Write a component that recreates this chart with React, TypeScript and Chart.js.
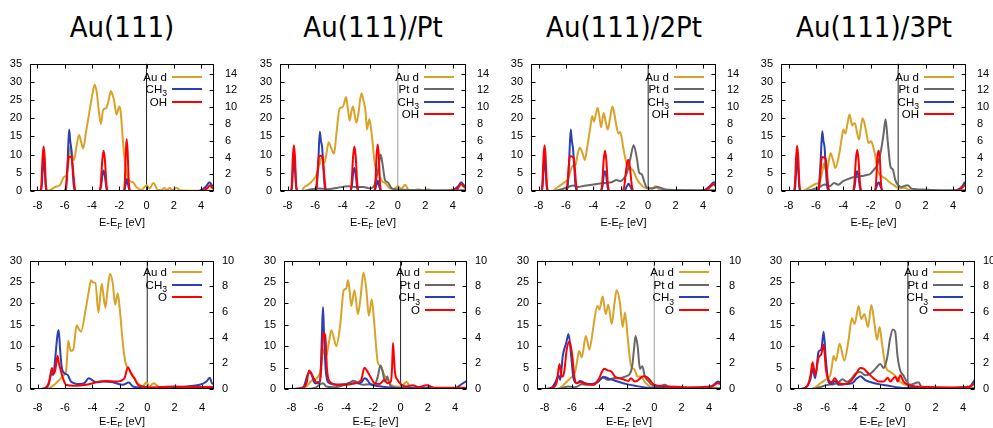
import React, { useEffect, useRef } from "react";
import { Chart, registerables } from "chart.js";

Chart.register(...registerables);

type Pt = [number, number];

// ---------- text / ticks ----------
const PANEL_TITLES = ["Au(111)", "Au(111)/Pt", "Au(111)/2Pt", "Au(111)/3Pt"];
const X_LABEL = "E-E_F [eV]";
const X_TICKS = [-8, -6, -4, -2, 0, 2, 4];
const TOP_Y_TICKS = [0, 5, 10, 15, 20, 25, 30, 35];
const TOP_Y2_TICKS = [0, 2, 4, 6, 8, 10, 12, 14];
const BOT_Y_TICKS = [0, 5, 10, 15, 20, 25, 30];
const BOT_Y2_TICKS = [0, 2, 4, 6, 8, 10];
const LABEL_AU = "Au d";
const LABEL_PT = "Pt d";
const LABEL_CH3 = "CH_3";
const LABEL_OH = "OH";
const LABEL_O = "O";

// ---------- top row (OH adsorbed) : Au d / Pt d on left axis, CH3 / OH on right axis ----------
const T1_AU: Pt[] = [[-8.6,0],[-7.3,0],[-7.1,0.2],[-6.7,1.1],[-6.35,1.6],[-6.1,3.7],[-5.86,4.6],[-5.72,8],[-5.6,12.4],[-5.45,10],[-5.32,8.5],[-5.15,12],[-4.95,15.4],[-4.8,13.5],[-4.65,11.7],[-4.45,16],[-4.15,22.7],[-3.95,27],[-3.8,29.2],[-3.65,27],[-3.5,22],[-3.35,18.4],[-3.18,22.3],[-2.99,22.7],[-2.87,23.6],[-2.75,25.5],[-2.62,27.5],[-2.5,26.5],[-2.38,24.9],[-2.2,21],[-2.0,23.2],[-1.9,21.9],[-1.72,13.2],[-1.53,6.3],[-1.28,2.9],[-1.0,2.4],[-0.75,1.1],[-0.37,0.3],[0,1.6],[0.22,0.7],[0.5,2.2],[0.83,0.3],[1.1,0.3],[1.3,0.8],[1.5,0.3],[1.7,0.8],[1.9,0.3],[2.2,0.8],[2.5,0.2],[3.0,0.1],[4.0,0.1],[4.95,0.1]];
const T1_CH3: Pt[] = [[-8.6,0],[-7.82,0],[-7.71,0.3],[-7.62,2.5],[-7.55,4.06],[-7.47,2.5],[-7.38,0.3],[-7.27,0],[-6.02,0],[-5.9,0.3],[-5.79,3.5],[-5.68,7.33],[-5.6,6],[-5.52,5.0],[-5.44,3.0],[-5.33,0.5],[-5.2,0],[-3.48,0],[-3.34,0.5],[-3.23,2.0],[-3.15,2.44],[-3.06,1.8],[-2.94,0.3],[-2.82,0],[-1.65,0],[-1.54,0.7],[-1.45,1.43],[-1.36,0.8],[-1.24,0.1],[-1.1,0],[3.8,0],[4.1,0.2],[4.4,0.6],[4.6,1.05],[4.75,0.8],[4.95,0.3]];
const T1_OH: Pt[] = [[-8.6,0],[-7.82,0],[-7.72,0.6],[-7.63,4.0],[-7.55,5.3],[-7.47,4.0],[-7.38,0.6],[-7.27,0],[-6.02,0],[-5.92,0.4],[-5.81,2.5],[-5.72,4.06],[-5.6,4.1],[-5.48,3.9],[-5.39,2.5],[-5.28,0.5],[-5.17,0],[-3.48,0],[-3.37,0.6],[-3.24,3.8],[-3.15,4.8],[-3.06,3.8],[-2.93,0.6],[-2.82,0],[-1.7,0],[-1.6,0.8],[-1.52,4.5],[-1.46,6.2],[-1.39,4.8],[-1.3,1.0],[-1.18,0],[3.8,0],[4.2,0.1],[4.5,0.4],[4.65,0.68],[4.8,0.4],[4.95,0.2]];

const T2_AU: Pt[] = [[-8.6,0],[-7.0,0],[-6.78,1.1],[-6.54,1.6],[-6.17,2.9],[-5.93,4.2],[-5.7,7],[-5.5,9.3],[-5.32,7.8],[-5.15,11],[-5.02,13.4],[-4.85,12],[-4.63,10.2],[-4.45,16],[-4.22,22.7],[-4.02,23],[-3.9,24],[-3.76,25.8],[-3.62,22.5],[-3.49,19.3],[-3.36,22],[-3.24,23.2],[-3.12,20.5],[-3.0,18.8],[-2.85,21.5],[-2.72,25.5],[-2.63,26.8],[-2.5,25],[-2.34,21.9],[-2.24,16.9],[-2.07,19.7],[-1.95,17.5],[-1.85,14.1],[-1.66,7.2],[-1.41,5],[-1.17,2.9],[-0.88,2.0],[-0.56,0.7],[-0.3,0.5],[0,1.3],[0.25,0.6],[0.54,1.7],[0.78,0.3],[1.2,0.2],[1.5,0.5],[1.8,0.2],[2.2,0.5],[2.5,0.1],[3.5,0.1],[3.9,0.4],[4.2,0.1],[4.95,0.1]];
const T2_PT: Pt[] = [[-8.6,0],[-7.0,0],[-6.5,0.3],[-5.8,0.7],[-5.1,0.5],[-4.35,0.9],[-3.6,1.3],[-3.1,1.1],[-2.5,1.1],[-2.0,0.7],[-1.66,2.0],[-1.41,6.3],[-1.24,10.0],[-1.1,7.2],[-0.93,3.0],[-0.73,2.4],[-0.44,0.7],[0.05,0.4],[1.0,0.3],[4.95,0.2]];
const T2_CH3: Pt[] = [[-8.6,0],[-7.8,0],[-7.69,0.3],[-7.61,2.5],[-7.54,4.06],[-7.46,2.5],[-7.37,0.3],[-7.26,0],[-6.02,0],[-5.9,0.3],[-5.77,3.5],[-5.66,7.07],[-5.58,6],[-5.49,5.2],[-5.41,3.0],[-5.3,0.5],[-5.18,0],[-3.48,0],[-3.34,0.5],[-3.23,2.3],[-3.15,2.74],[-3.06,2.0],[-2.94,0.3],[-2.82,0],[-1.7,0],[-1.56,0.7],[-1.46,1.24],[-1.37,0.7],[-1.25,0.1],[-1.12,0],[3.8,0],[4.1,0.2],[4.4,0.6],[4.6,1.05],[4.75,0.8],[4.95,0.4]];
const T2_OH: Pt[] = [[-8.6,0],[-7.8,0],[-7.7,0.6],[-7.62,4.0],[-7.54,5.45],[-7.46,4.0],[-7.37,0.6],[-7.26,0],[-6.02,0],[-5.92,0.4],[-5.81,2.5],[-5.72,4.14],[-5.58,4.2],[-5.45,3.9],[-5.37,2.5],[-5.26,0.5],[-5.15,0],[-3.48,0],[-3.37,0.6],[-3.24,4.2],[-3.15,5.3],[-3.06,4.2],[-2.93,0.6],[-2.82,0],[-1.74,0],[-1.63,0.8],[-1.54,4.3],[-1.46,5.56],[-1.38,4.3],[-1.29,0.8],[-1.17,0],[3.8,0],[4.3,0.2],[4.6,0.8],[4.8,0.5],[4.95,0.3]];

const T3_AU: Pt[] = [[-8.6,0],[-7.0,0],[-6.58,1.1],[-6.1,2.4],[-5.84,3.3],[-5.6,6.3],[-5.45,7],[-5.3,7.2],[-5.15,10],[-4.99,11.9],[-4.8,10.5],[-4.62,8.5],[-4.45,12],[-4.25,16.7],[-4.08,20.6],[-3.96,19.1],[-3.82,21],[-3.69,22.9],[-3.56,20.5],[-3.44,17.5],[-3.25,21.4],[-3.1,19],[-2.95,16.9],[-2.78,20],[-2.61,23.2],[-2.48,21.5],[-2.36,18.8],[-2.17,15.8],[-2.04,16.2],[-1.8,11.5],[-1.55,7.2],[-1.3,6.3],[-1.06,5.4],[-0.83,3.3],[-0.59,2.0],[-0.34,1.1],[0,0.7],[0.3,0.7],[0.56,1.3],[0.8,0.4],[1.2,0.2],[2.2,0.3],[3,0.1],[4.95,0.1]];
const T3_PT: Pt[] = [[-8.6,0],[-6.8,0],[-6.3,0.5],[-5.84,1.1],[-5.48,1.5],[-5.1,1.1],[-4.75,1.4],[-4.37,1.6],[-4.0,1.8],[-3.64,2.0],[-3.15,2.2],[-2.66,2.4],[-2.3,3.0],[-2.05,2.7],[-1.8,3.3],[-1.55,5.0],[-1.3,8.9],[-1.06,12.6],[-0.84,9.3],[-0.65,5.0],[-0.47,4.6],[-0.27,2.4],[-0.1,0.9],[0.3,0.7],[0.65,1.1],[1.26,0.4],[2,0.3],[4.95,0.2]];
const T3_CH3: Pt[] = [[-8.6,0],[-7.83,0],[-7.72,0.3],[-7.63,2.5],[-7.56,4.06],[-7.48,2.5],[-7.39,0.3],[-7.28,0],[-6.02,0],[-5.9,0.3],[-5.77,3.5],[-5.65,7.33],[-5.57,6],[-5.48,5.0],[-5.4,3.0],[-5.29,0.5],[-5.17,0],[-3.48,0],[-3.35,0.4],[-3.23,2.0],[-3.15,2.37],[-3.06,1.8],[-2.94,0.3],[-2.82,0],[-1.75,0],[-1.57,0.5],[-1.43,0.86],[-1.29,0.5],[-1.14,0.05],[-1.0,0],[3.8,0],[4.2,0.2],[4.5,0.6],[4.8,1.05],[4.95,0.8]];
const T3_OH: Pt[] = [[-8.6,0],[-7.83,0],[-7.73,0.6],[-7.64,4.0],[-7.56,5.45],[-7.48,4.0],[-7.39,0.6],[-7.28,0],[-6.02,0],[-5.92,0.4],[-5.81,2.5],[-5.72,4.17],[-5.55,4.1],[-5.42,3.9],[-5.34,2.5],[-5.24,0.5],[-5.13,0],[-3.48,0],[-3.37,0.6],[-3.24,3.8],[-3.15,4.8],[-3.06,3.8],[-2.93,0.6],[-2.82,0],[-1.88,0],[-1.74,0.6],[-1.61,2.5],[-1.5,3.6],[-1.42,3.7],[-1.31,2.5],[-1.19,0.6],[-1.04,0],[3.8,0],[4.3,0.2],[4.6,0.6],[4.8,0.8],[4.95,0.5]];

const T4_AU: Pt[] = [[-8.6,0],[-7.0,0],[-6.47,1.0],[-5.98,2.0],[-5.74,2.4],[-5.55,5],[-5.42,7.6],[-5.3,6],[-5.2,5.4],[-5.05,8.5],[-4.93,10.4],[-4.75,8.5],[-4.59,6.3],[-4.28,10.6],[-4.1,15],[-4.0,16.9],[-3.85,15.8],[-3.7,18.5],[-3.55,21],[-3.45,19.5],[-3.36,18.0],[-3.22,18.6],[-3.13,18.4],[-3.0,16],[-2.86,14.1],[-2.72,17.5],[-2.6,20.0],[-2.45,18.5],[-2.33,16.2],[-2.16,13.2],[-1.97,13.7],[-1.85,12.5],[-1.72,10.6],[-1.48,5.4],[-1.24,4.1],[-0.95,3.5],[-0.63,2.4],[-0.27,1.5],[0.1,0.7],[0.46,0.9],[0.8,0.3],[1.5,0.1],[4.95,0.1]];
const T4_PT: Pt[] = [[-8.6,0],[-6.8,0],[-6.23,0.4],[-5.74,1.1],[-5.37,1.8],[-5.0,1.3],[-4.67,2.2],[-4.38,1.7],[-4.02,2.7],[-3.65,3.3],[-3.35,3.7],[-3.04,3.9],[-2.68,4.1],[-2.31,4.4],[-2.07,4.6],[-1.76,5.9],[-1.52,7.2],[-1.28,10.6],[-1.06,15.8],[-0.92,19.7],[-0.75,13.2],[-0.56,6.7],[-0.39,5.9],[-0.2,2.9],[0.02,1.5],[0.22,1.1],[0.46,1.4],[0.7,1.6],[0.95,0.7],[1.3,0.5],[2.0,0.4],[2.5,0.3],[4.95,0.2]];
const T4_CH3: Pt[] = [[-8.6,0],[-7.64,0],[-7.53,0.3],[-7.44,2.5],[-7.37,4.06],[-7.29,2.5],[-7.2,0.3],[-7.09,0],[-5.92,0],[-5.8,0.3],[-5.66,3.5],[-5.54,7.14],[-5.46,6],[-5.37,5.2],[-5.29,3.0],[-5.18,0.5],[-5.06,0],[-3.32,0],[-3.19,0.4],[-3.07,2.0],[-2.99,2.37],[-2.9,1.8],[-2.78,0.3],[-2.66,0],[-1.72,0],[-1.56,0.6],[-1.43,1.05],[-1.3,0.6],[-1.14,0.05],[-1.0,0],[4.0,0],[4.4,0.2],[4.7,0.6],[4.85,1.0],[4.95,0.9]];
const T4_OH: Pt[] = [[-8.6,0],[-7.64,0],[-7.54,0.6],[-7.45,4.0],[-7.37,5.4],[-7.29,4.0],[-7.2,0.6],[-7.09,0],[-5.88,0],[-5.77,0.4],[-5.66,2.5],[-5.56,4.06],[-5.42,4.0],[-5.3,3.9],[-5.21,2.5],[-5.1,0.5],[-4.98,0],[-3.32,0],[-3.21,0.6],[-3.08,3.9],[-2.99,4.9],[-2.9,3.9],[-2.77,0.6],[-2.66,0],[-1.72,0],[-1.62,0.8],[-1.52,4.0],[-1.43,4.8],[-1.34,4.0],[-1.25,0.8],[-1.13,0],[4.0,0],[4.5,0.2],[4.8,0.6],[4.95,0.8]];

// ---------- bottom row (O adsorbed) ----------
const B1_AU: Pt[] = [[-8.6,0],[-7.6,0],[-7.15,0.2],[-6.78,1.0],[-6.41,2.1],[-6.12,3.2],[-5.93,4.0],[-5.85,7],[-5.76,11.3],[-5.65,9.5],[-5.56,8.9],[-5.39,9.2],[-5.15,14.9],[-4.99,14],[-4.83,13.4],[-4.51,18.2],[-4.27,22.7],[-4.1,25.4],[-3.95,24.9],[-3.78,24.8],[-3.56,17.9],[-3.32,24.6],[-3.2,22],[-3.05,19],[-2.9,23],[-2.71,26.9],[-2.51,24.6],[-2.34,19.7],[-2.15,22.4],[-1.98,17.9],[-1.78,10.7],[-1.59,6.2],[-1.29,4.4],[-1.05,2.9],[-0.68,1.35],[-0.32,0.6],[-0.07,1.6],[0.17,0.6],[0.46,1.35],[0.9,0.4],[1.5,0.3],[2.3,0.4],[3,0.2],[4.87,0.2]];
const B1_CH3: Pt[] = [[-8.6,0],[-7.63,0],[-7.2,0.33],[-6.98,1.2],[-6.85,1.1],[-6.7,2.5],[-6.55,4.2],[-6.46,4.6],[-6.35,3],[-6.22,1.6],[-6.0,1.2],[-5.8,1.1],[-5.56,0.58],[-4.95,0.38],[-4.59,0.45],[-4.27,0.83],[-3.73,0.52],[-3.24,0.58],[-2.51,0.52],[-1.78,0.33],[-1.34,0.5],[-1.05,0.2],[-0.32,0.12],[0.5,0.1],[3.83,0.33],[4.32,0.58],[4.56,0.88],[4.75,0.4],[4.87,0.4]];
const B1_O: Pt[] = [[-8.6,0],[-7.88,0],[-7.39,0.12],[-7.15,0.58],[-6.95,1.63],[-6.83,1.2],[-6.71,1.45],[-6.54,2.58],[-6.44,2.0],[-6.34,1.58],[-6.1,0.7],[-5.93,0.33],[-5.2,0.25],[-4.46,0.33],[-3.98,0.45],[-3.49,0.58],[-3.0,0.63],[-2.27,0.58],[-1.66,0.83],[-1.41,1.7],[-1.17,1.2],[-0.93,0.83],[-0.68,0.33],[-0.32,0.2],[0.17,0.12],[1,0.15],[2,0.2],[3,0.15],[4.56,0.15],[4.87,0.15]];

const B2_AU: Pt[] = [[-8.6,0],[-7.27,0],[-6.9,0.6],[-6.54,1.9],[-6.17,2.5],[-5.93,3.6],[-5.8,6],[-5.69,9.2],[-5.58,8.2],[-5.45,7.7],[-5.25,11],[-5.08,13.7],[-4.9,12],[-4.71,10],[-4.42,15.2],[-4.17,23.1],[-3.98,23.5],[-3.86,25.4],[-3.74,23],[-3.62,19.4],[-3.38,23.1],[-3.13,17.5],[-2.95,21],[-2.72,27.2],[-2.52,23.5],[-2.33,17.1],[-2.11,20.9],[-1.92,14.9],[-1.67,6.2],[-1.44,5.3],[-1.19,3.2],[-0.95,2.5],[-0.71,1.1],[-0.34,0.6],[0.02,0.6],[0.46,1.7],[0.7,0.4],[1.2,0.3],[2,0.3],[3,0.2],[4.87,0.2]];
const B2_PT: Pt[] = [[-8.6,0],[-6.9,0],[-6.3,0.25],[-5.69,1.35],[-5.45,0.6],[-4.84,0.4],[-4.1,1.0],[-3.74,1.5],[-3.43,1.9],[-3.13,1.35],[-2.77,1.0],[-2.28,1.1],[-1.92,1.0],[-1.67,2.9],[-1.48,5.5],[-1.31,4.0],[-1.14,1.7],[-0.98,2.9],[-0.85,1.5],[-0.71,0.6],[0.02,0.2],[4.87,0.1]];
const B2_CH3: Pt[] = [[-8.6,0],[-7.88,0],[-7.15,0.12],[-6.78,1.2],[-6.61,1.3],[-6.47,0.95],[-6.29,0.45],[-5.93,0.45],[-5.85,1.5],[-5.77,4.3],[-5.69,6.38],[-5.62,4.5],[-5.5,1.6],[-5.35,0.6],[-5.2,0.45],[-4.59,0.33],[-3.98,0.38],[-3.38,0.45],[-2.89,0.5],[-2.65,0.83],[-2.48,0.75],[-2.21,0.38],[-1.8,0.25],[-1.44,0.2],[-0.71,0.12],[0.02,0.08],[4.0,0.08],[4.41,0.33],[4.77,0.58],[4.87,0.6]];
const B2_O: Pt[] = [[-8.6,0],[-7.8,0],[-7.27,0.08],[-6.9,0.45],[-6.71,1.45],[-6.54,1.2],[-6.37,0.83],[-6.17,0.53],[-5.93,0.58],[-5.8,2.0],[-5.76,3.2],[-5.66,4.38],[-5.52,4.1],[-5.4,1.58],[-5.2,0.58],[-4.59,0.33],[-3.98,0.33],[-3.38,0.45],[-2.89,0.7],[-2.65,1.65],[-2.48,1.45],[-2.21,0.95],[-1.92,0.45],[-1.56,0.38],[-1.19,0.7],[-0.95,0.45],[-0.71,0.58],[-0.62,1.8],[-0.56,3.58],[-0.48,2.4],[-0.41,1.3],[-0.22,0.7],[0.07,0.33],[0.39,0.2],[0.9,0.3],[1.3,0.15],[1.9,0.3],[2.5,0.1],[3.5,0.1],[4.87,0.1]];

const B3_AU: Pt[] = [[-8.6,0],[-7.1,0],[-6.74,0.6],[-6.38,1.7],[-6.13,2.5],[-5.77,4.0],[-5.6,7],[-5.48,8.9],[-5.28,7.4],[-4.99,12.4],[-4.73,9.2],[-4.44,14.5],[-4.15,19.4],[-4.0,18.6],[-3.76,21.6],[-3.54,17.5],[-3.35,19.7],[-3.1,15.2],[-2.9,20],[-2.74,23.1],[-2.5,20.1],[-2.3,14.5],[-2.13,17.9],[-1.94,12.2],[-1.7,5.5],[-1.45,4.6],[-1.21,2.9],[-0.97,2.9],[-0.68,1.6],[-0.32,0.6],[0.05,0.4],[0.6,0.3],[2,0.2],[4.87,0.2]];
const B3_PT: Pt[] = [[-8.6,0],[-7.0,0],[-6.25,0.6],[-5.77,0.4],[-5.28,1.1],[-4.92,1.0],[-4.44,1.0],[-4.07,2.1],[-3.71,2.6],[-3.35,2.1],[-2.98,2.5],[-2.5,2.5],[-2.13,2.9],[-1.76,3.6],[-1.6,5.5],[-1.48,9.2],[-1.36,12.4],[-1.21,10],[-1.04,4.7],[-0.87,5.3],[-0.68,2.9],[-0.44,1.9],[-0.19,1.0],[0.29,0.6],[0.78,1.0],[1.1,0.4],[2,0.2],[4.87,0.2]];
const B3_CH3: Pt[] = [[-8.6,0],[-7.95,0],[-7.47,0.12],[-7.18,0.58],[-6.98,1.08],[-6.86,0.7],[-6.67,2.58],[-6.42,3.58],[-6.25,4.28],[-6.06,2.6],[-5.89,0.83],[-5.65,0.45],[-5.41,0.63],[-5.04,0.45],[-4.56,0.38],[-4.07,0.58],[-3.71,0.95],[-3.35,0.83],[-2.98,0.7],[-2.5,0.52],[-2.01,0.38],[-1.41,0.25],[-0.68,0.12],[0.05,0.08],[4.17,0.2],[4.65,0.58],[4.87,0.45]];
const B3_O: Pt[] = [[-8.6,0],[-7.95,0],[-7.35,0.12],[-7.1,0.58],[-6.91,1.95],[-6.74,0.95],[-6.57,1.3],[-6.38,3.08],[-6.18,3.7],[-6.0,2.8],[-5.82,0.95],[-5.65,0.45],[-5.41,0.53],[-4.92,0.38],[-4.44,0.33],[-4.07,0.7],[-3.83,1.3],[-3.64,1.58],[-3.4,1.45],[-3.15,1.38],[-2.86,0.95],[-2.5,0.83],[-2.13,0.7],[-1.89,0.63],[-1.7,0.83],[-1.41,0.58],[-1.16,0.7],[-0.8,1.0],[-0.56,0.95],[-0.32,0.7],[-0.07,0.38],[0.29,0.25],[1,0.2],[2,0.15],[3,0.12],[4.17,0.2],[4.65,0.45],[4.87,0.35]];

const B4_AU: Pt[] = [[-8.6,0],[-7.08,0],[-6.72,0.4],[-6.35,1.35],[-6.0,2.1],[-5.63,3.2],[-5.5,5.5],[-5.39,7.7],[-5.22,6.6],[-4.95,10.6],[-4.61,6.6],[-4.3,11.5],[-4.06,16.6],[-3.86,15.2],[-3.57,19.4],[-3.38,16.3],[-3.16,17.5],[-2.89,14.5],[-2.65,19.6],[-2.42,15.2],[-2.24,11.5],[-2.05,14.5],[-1.88,10.7],[-1.6,5.1],[-1.28,4.0],[-0.92,3.1],[-0.56,1.7],[-0.19,1.0],[0.29,0.6],[1,0.3],[2,0.2],[4.87,0.2]];
const B4_PT: Pt[] = [[-8.6,0],[-7.0,0],[-6.23,0.6],[-5.75,1.0],[-5.39,1.1],[-5.02,1.6],[-4.73,2.3],[-4.42,1.7],[-4.06,2.5],[-3.81,3.6],[-3.45,4.0],[-3.09,3.2],[-2.72,3.6],[-2.36,4.7],[-2.0,5.85],[-1.76,4.9],[-1.52,7.0],[-1.28,11.9],[-1.09,13.9],[-0.92,13.4],[-0.75,7.7],[-0.56,4.4],[-0.31,3.1],[-0.07,1.7],[0.17,1.0],[0.53,1.35],[0.78,1.6],[1.0,0.4],[2,0.2],[4.87,0.2]];
const B4_CH3: Pt[] = [[-8.6,0],[-7.8,0],[-7.32,0.2],[-7.08,0.7],[-6.91,1.58],[-6.72,0.83],[-6.48,2.9],[-6.28,3.1],[-6.11,4.45],[-5.95,2.3],[-5.75,0.53],[-5.51,0.38],[-5.31,0.63],[-5.02,0.33],[-4.54,0.38],[-4.06,0.45],[-3.69,0.83],[-3.45,1.0],[-3.09,0.7],[-2.6,0.5],[-2.12,0.38],[-1.4,0.25],[-0.68,0.12],[0.05,0.08],[4.41,0.12],[4.65,0.38],[4.87,0.75]];
const B4_O: Pt[] = [[-8.6,0],[-7.8,0],[-7.32,0.2],[-7.08,0.95],[-6.91,2.08],[-6.72,1.08],[-6.48,2.45],[-6.28,2.7],[-6.11,3.45],[-5.95,1.58],[-5.75,0.7],[-5.51,0.53],[-5.31,0.83],[-5.02,0.45],[-4.54,0.38],[-4.18,0.58],[-3.81,1.08],[-3.45,1.63],[-3.21,1.58],[-2.85,1.2],[-2.48,0.83],[-2.12,0.58],[-1.76,0.58],[-1.45,0.88],[-1.28,0.58],[-0.92,0.95],[-0.73,0.58],[-0.56,1.08],[-0.31,0.58],[0,0.33],[0.53,0.2],[1.5,0.15],[3,0.12],[4.5,0.2],[4.87,0.45]];

// ---------- styling ----------
const C_AU = "#d9a32a";
const C_PT = "#686868";
const C_CH3 = "#2c3fb3";
const C_O = "#ff0000";
const FONT = '"Liberation Sans", Arial, Helvetica, sans-serif';
const SIDE = 32;
const PAD_TOP = 10;
const TICK_LEN = 4;

type Series = { label: string; color: string; axis: "y" | "y2"; data: Pt[] };
type Row = {
  top: number; height: number; xMin: number; xMax: number; yMax: number; y2Max: number;
  yTicks: number[]; y2Ticks: number[]; xPad: number; yPad: number; y2Pad: number;
  legendY0: number; legendDy: number; xTitleBase: number; bottomSpace: number;
};
type PanelDef = { row: Row; left: number; width: number; series: Series[]; fermi: string };

const ROW_TOP: Row = {
  top: 56, height: 135, xMin: -8.55, xMax: 4.95, yMax: 35, y2Max: 15.2,
  yTicks: TOP_Y_TICKS, y2Ticks: TOP_Y2_TICKS, xPad: 8, yPad: 8, y2Pad: 11,
  legendY0: 13.3, legendDy: 12.3, xTitleBase: 35, bottomSpace: 45,
};
const ROW_BOT: Row = {
  top: 256, height: 133, xMin: -8.55, xMax: 4.87, yMax: 30, y2Max: 10,
  yTicks: BOT_Y_TICKS, y2Ticks: BOT_Y2_TICKS, xPad: 12.5, yPad: 8, y2Pad: 8,
  legendY0: 11.4, legendDy: 12.7, xTitleBase: 36, bottomSpace: 38,
};

const au = (d: Pt[]): Series => ({ label: LABEL_AU, color: C_AU, axis: "y", data: d });
const pt = (d: Pt[]): Series => ({ label: LABEL_PT, color: C_PT, axis: "y", data: d });
const ch3 = (d: Pt[]): Series => ({ label: LABEL_CH3, color: C_CH3, axis: "y2", data: d });
const oh = (d: Pt[]): Series => ({ label: LABEL_OH, color: C_O, axis: "y2", data: d });
const o = (d: Pt[]): Series => ({ label: LABEL_O, color: C_O, axis: "y2", data: d });

const PANELS: PanelDef[] = [
  { row: ROW_TOP, left: 30, width: 184, series: [au(T1_AU), ch3(T1_CH3), oh(T1_OH)], fermi: "#222" },
  { row: ROW_TOP, left: 280, width: 186, series: [au(T2_AU), pt(T2_PT), ch3(T2_CH3), oh(T2_OH)], fermi: "#999" },
  { row: ROW_TOP, left: 531, width: 185, series: [au(T3_AU), pt(T3_PT), ch3(T3_CH3), oh(T3_OH)], fermi: "#222" },
  { row: ROW_TOP, left: 781, width: 185, series: [au(T4_AU), pt(T4_PT), ch3(T4_CH3), oh(T4_OH)], fermi: "#222" },
  { row: ROW_BOT, left: 30, width: 184, series: [au(B1_AU), ch3(B1_CH3), o(B1_O)], fermi: "#222" },
  { row: ROW_BOT, left: 284, width: 183, series: [au(B2_AU), pt(B2_PT), ch3(B2_CH3), o(B2_O)], fermi: "#222" },
  { row: ROW_BOT, left: 537, width: 184, series: [au(B3_AU), pt(B3_PT), ch3(B3_CH3), o(B3_O)], fermi: "#999" },
  { row: ROW_BOT, left: 790, width: 185, series: [au(B4_AU), pt(B4_PT), ch3(B4_CH3), o(B4_O)], fermi: "#222" },
];

// ---------- rich text (subscripts written as _x) ----------
function parseRich(s: string) {
  const parts: { t: string; sub: boolean }[] = [];
  let buf = "";
  for (let i = 0; i < s.length; i++) {
    if (s[i] === "_" && i + 1 < s.length) {
      if (buf) parts.push({ t: buf, sub: false });
      buf = "";
      parts.push({ t: s[i + 1], sub: true });
      i++;
    } else buf += s[i];
  }
  if (buf) parts.push({ t: buf, sub: false });
  return parts;
}
function drawRich(ctx: CanvasRenderingContext2D, s: string, x: number, y: number, size: number, align: "right" | "center") {
  const parts = parseRich(s);
  const fontFor = (sub: boolean) => `${sub ? size * 0.75 : size}px ${FONT}`;
  let w = 0;
  for (const p of parts) { ctx.font = fontFor(p.sub); w += ctx.measureText(p.t).width; }
  let cx = align === "right" ? x - w : x - w / 2;
  ctx.textAlign = "left";
  ctx.textBaseline = "alphabetic";
  for (const p of parts) {
    ctx.font = fontFor(p.sub);
    ctx.fillText(p.t, cx, p.sub ? y + size * 0.28 : y);
    cx += ctx.measureText(p.t).width;
  }
}

function makeOverlay(p: PanelDef) {
  return {
    id: "gnuFrame",
    afterDraw(chart: any) {
      const { ctx, chartArea: a, scales } = chart;
      ctx.save();
      const L = Math.round(a.left) + 0.5;
      const R = Math.round(a.right) - 0.5;
      const T = Math.round(a.top) + 0.5;
      const B = Math.round(a.bottom) - 0.5;
      ctx.strokeStyle = "#000";
      ctx.lineWidth = 1;
      ctx.strokeRect(L, T, R - L, B - T);
      ctx.beginPath();
      for (const t of scales.x.ticks) {
        const px = Math.round(scales.x.getPixelForValue(t.value)) + 0.5;
        ctx.moveTo(px, B); ctx.lineTo(px, B - TICK_LEN);
        ctx.moveTo(px, T); ctx.lineTo(px, T + TICK_LEN);
      }
      for (const t of scales.y.ticks) {
        const py = Math.round(scales.y.getPixelForValue(t.value)) + 0.5;
        ctx.moveTo(L, py); ctx.lineTo(L + TICK_LEN, py);
      }
      for (const t of scales.y2.ticks) {
        const py = Math.round(scales.y2.getPixelForValue(t.value)) + 0.5;
        ctx.moveTo(R, py); ctx.lineTo(R - TICK_LEN, py);
      }
      ctx.stroke();
      // key (gnuplot style: text right-aligned, sample line to its right)
      p.series.forEach((s, i) => {
        const cy = a.top + p.row.legendY0 + i * p.row.legendDy;
        ctx.fillStyle = "#000";
        drawRich(ctx, s.label, a.right - 47, cy + 4, 11.5, "right");
        ctx.strokeStyle = s.color;
        ctx.lineWidth = 2;
        ctx.beginPath();
        ctx.moveTo(a.right - 42, Math.round(cy));
        ctx.lineTo(a.right - 12, Math.round(cy));
        ctx.stroke();
      });
      ctx.fillStyle = "#000";
      drawRich(ctx, X_LABEL, (a.left + a.right) / 2, a.bottom + p.row.xTitleBase, 11, "center");
      ctx.restore();
    },
  };
}

function Panel({ def }: { def: PanelDef }) {
  const ref = useRef<HTMLCanvasElement>(null);
  const r = def.row;
  const cw = def.width + 2 * SIDE;
  const ch = PAD_TOP + r.height + r.bottomSpace;
  useEffect(() => {
    const n = def.series.length;
    const datasets: any[] = def.series.map((s, i) => ({
      label: s.label,
      data: s.data.map(([x, y]) => ({ x, y })),
      yAxisID: s.axis,
      borderColor: s.color,
      backgroundColor: s.color,
      borderWidth: 2,
      pointRadius: 0,
      fill: false,
      cubicInterpolationMode: "monotone",
      order: n - i,
    }));
    datasets.push({
      label: "E_F",
      data: [{ x: 0, y: 0 }, { x: 0, y: r.yMax }],
      yAxisID: "y",
      borderColor: def.fermi,
      borderWidth: 1,
      pointRadius: 0,
      tension: 0,
      order: 20,
    });
    const tickFont = { family: FONT, size: 11 };
    const chart = new Chart(ref.current as HTMLCanvasElement, {
      type: "line",
      data: { datasets },
      options: {
        responsive: false,
        maintainAspectRatio: false,
        animation: false,
        devicePixelRatio: 1,
        events: [],
        layout: { padding: { top: PAD_TOP, left: 0, right: 0, bottom: 0 } },
        plugins: { legend: { display: false }, tooltip: { enabled: false }, title: { display: false } },
        scales: {
          x: {
            type: "linear", position: "bottom", min: r.xMin, max: r.xMax,
            grid: { display: false, drawTicks: false }, border: { display: false },
            afterBuildTicks: (s: any) => { s.ticks = X_TICKS.map((v) => ({ value: v })); },
            afterFit: (s: any) => { s.height = r.bottomSpace; },
            ticks: { padding: r.xPad, font: tickFont, color: "#000", maxRotation: 0, autoSkip: false, callback: (v: any) => String(v) },
          },
          y: {
            type: "linear", position: "left", min: 0, max: r.yMax,
            grid: { display: false, drawTicks: false }, border: { display: false },
            afterBuildTicks: (s: any) => { s.ticks = r.yTicks.map((v) => ({ value: v })); },
            afterFit: (s: any) => { s.width = SIDE; },
            ticks: { padding: r.yPad, font: tickFont, color: "#000", autoSkip: false, callback: (v: any) => String(v) },
          },
          y2: {
            type: "linear", position: "right", min: 0, max: r.y2Max,
            grid: { display: false, drawTicks: false }, border: { display: false },
            afterBuildTicks: (s: any) => { s.ticks = r.y2Ticks.map((v) => ({ value: v })); },
            afterFit: (s: any) => { s.width = SIDE; },
            ticks: { padding: r.y2Pad, font: tickFont, color: "#000", autoSkip: false, callback: (v: any) => String(v) },
          },
        },
      } as any,
      plugins: [makeOverlay(def)],
    });
    return () => chart.destroy();
  }, []);
  return (
    <canvas
      ref={ref}
      width={cw}
      height={ch}
      style={{ position: "absolute", left: def.left - SIDE, top: r.top - PAD_TOP, width: cw, height: ch }}
    />
  );
}

export default function App() {
  return (
    <div style={{ position: "absolute", left: 0, top: 0, width: 993, height: 428, overflow: "hidden", background: "#fff" }}>
      {PANELS.slice(0, 4).map((p, i) => (
        <div
          key={"t" + i}
          style={{
            position: "absolute",
            left: p.left + p.width / 2 - 150,
            top: 12.5,
            width: 300,
            textAlign: "center",
            fontFamily: '"DejaVu Sans", sans-serif',
            fontSize: 29,
            lineHeight: "29px",
            color: "#000",
            transform: "scaleX(0.9)",
            whiteSpace: "nowrap",
          }}
        >
          {PANEL_TITLES[i]}
        </div>
      ))}
      {PANELS.map((p, i) => (
        <Panel key={i} def={p} />
      ))}
    </div>
  );
}
